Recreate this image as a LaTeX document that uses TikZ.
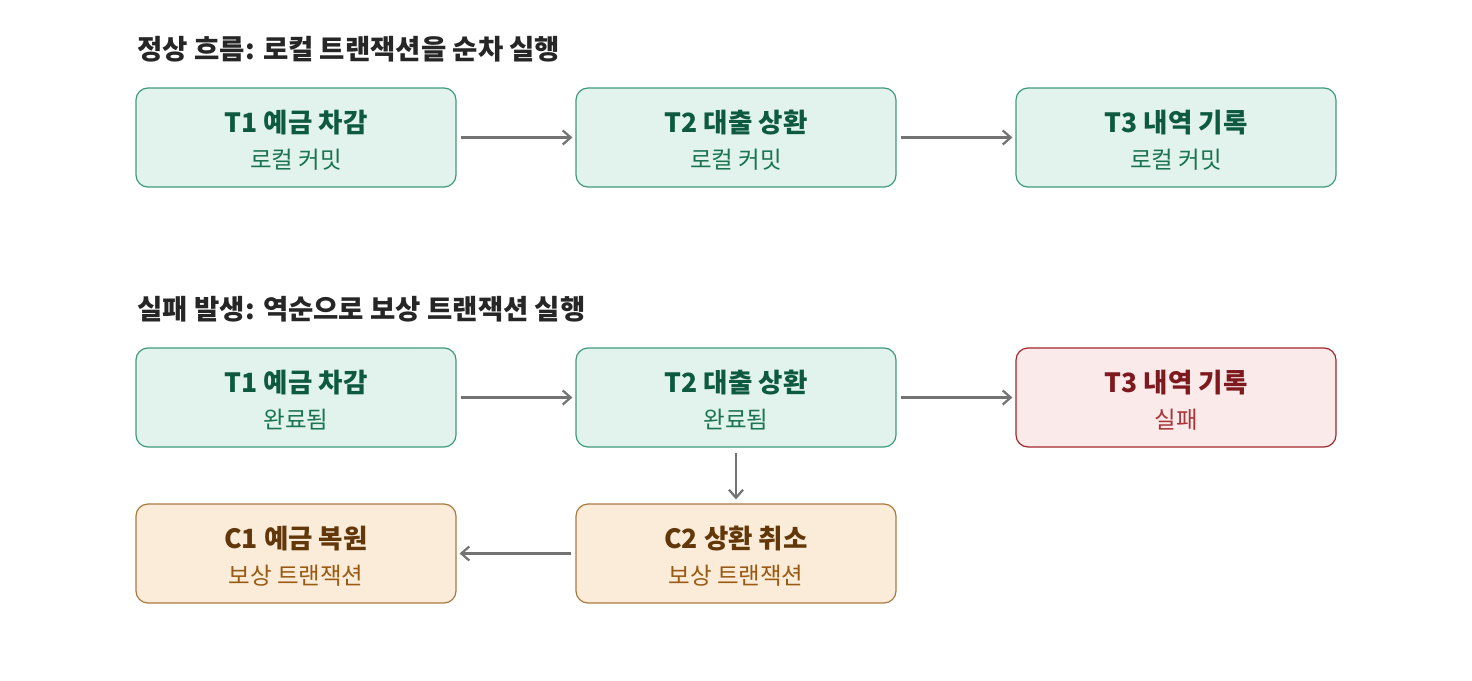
\documentclass[tikz,border=0pt]{standalone}
\usepackage{fontspec}
\setmainfont{Noto Sans CJK KR}
\usetikzlibrary{arrows.meta}
\definecolor{gfill}{HTML}{E1F3EC}
\definecolor{gdraw}{HTML}{3F9A7C}
\definecolor{gtext}{HTML}{0D5A40}
\definecolor{gsub}{HTML}{1A7452}
\definecolor{rfill}{HTML}{FBEAEA}
\definecolor{rdraw}{HTML}{A3262A}
\definecolor{rtext}{HTML}{7E1A1E}
\definecolor{rsub}{HTML}{A8353A}
\definecolor{ofill}{HTML}{FAECD8}
\definecolor{odraw}{HTML}{A97A40}
\definecolor{otext}{HTML}{62380A}
\definecolor{osub}{HTML}{9A5A14}
\definecolor{arr}{HTML}{737373}
\tikzset{
  box/.style={rounded corners=12pt, line width=1.2pt, minimum width=320pt, minimum height=99pt, inner sep=0pt},
  gbox/.style={box, draw=gdraw, fill=gfill},
  rbox/.style={box, draw=rdraw, fill=rfill},
  obox/.style={box, draw=odraw, fill=ofill},
  head/.style={font=\fontsize{26.5}{30}\selectfont\bfseries, anchor=center},
  sub/.style={font=\fontsize{23.5}{27}\selectfont, anchor=center},
  ttl/.style={font=\fontsize{27.5}{31}\selectfont\bfseries, anchor=west, text=black!85},
  conn/.style={draw=arr, line width=2.2pt, -{Straight Barb[length=8pt,width=14pt,line width=2.2pt]}},
}
\begin{document}
\begin{tikzpicture}[x=1pt,y=-1pt]
\useasboundingbox (0,0) rectangle (1472,680);
\fill[white] (0,0) rectangle (1472,680);

\node[ttl] (t1) at (134,49) {정상 흐름: 로컬 트랜잭션을 순차 실행};
\node[ttl] (t2) at (134,309) {실패 발생: 역순으로 보상 트랜잭션 실행};

% row 1
\node[gbox] (a1) at (296,137.5) {};
\node[gbox] (a2) at (736,137.5) {};
\node[gbox] (a3) at (1176,137.5) {};
\node[head,text=gtext] (a1h) at (296,123) {T1 예금 차감};
\node[sub,text=gsub] (a1s) at (296,160) {로컬 커밋};
\node[head,text=gtext] (a2h) at (736,123) {T2 대출 상환};
\node[sub,text=gsub] (a2s) at (736,160) {로컬 커밋};
\node[head,text=gtext] (a3h) at (1176,123) {T3 내역 기록};
\node[sub,text=gsub] (a3s) at (1176,160) {로컬 커밋};

% row 2
\node[gbox] (b1) at (296,397.5) {};
\node[gbox] (b2) at (736,397.5) {};
\node[rbox] (b3) at (1176,397.5) {};
\node[head,text=gtext] (b1h) at (296,383) {T1 예금 차감};
\node[sub,text=gsub] (b1s) at (296,420) {완료됨};
\node[head,text=gtext] (b2h) at (736,383) {T2 대출 상환};
\node[sub,text=gsub] (b2s) at (736,420) {완료됨};
\node[head,text=rtext] (b3h) at (1176,383) {T3 내역 기록};
\node[sub,text=rsub] (b3s) at (1176,420) {실패};

% row 3
\node[obox] (c1) at (296,553.5) {};
\node[obox] (c2) at (736,553.5) {};
\node[head,text=otext] (c1h) at (296,539) {C1 예금 복원};
\node[sub,text=osub] (c1s) at (296,576) {보상 트랜잭션};
\node[head,text=otext] (c2h) at (736,539) {C2 상환 취소};
\node[sub,text=osub] (c2s) at (736,576) {보상 트랜잭션};

\draw[conn] ([xshift=4pt]a1.east) -- ([xshift=-3pt]a2.west);
\draw[conn] ([xshift=4pt]a2.east) -- ([xshift=-3pt]a3.west);
\draw[conn] ([xshift=4pt]b1.east) -- ([xshift=-3pt]b2.west);
\draw[conn] ([xshift=4pt]b2.east) -- ([xshift=-3pt]b3.west);
\draw[conn] ([yshift=-5pt]b2.south) -- ([yshift=4pt]c2.north);
\draw[conn] ([xshift=-4pt]c2.west) -- ([xshift=3pt]c1.east);
\end{tikzpicture}
\end{document}
